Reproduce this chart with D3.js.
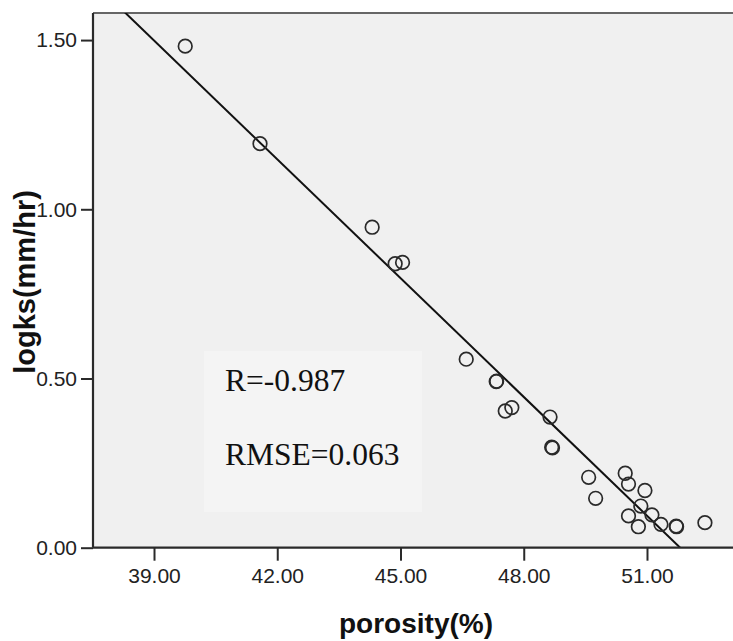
<!DOCTYPE html>
<html>
<head>
<meta charset="utf-8">
<script src="https://cdn.jsdelivr.net/npm/d3@7"></script>
<style>
  html, body { margin: 0; padding: 0; background: #fff; }
  svg { display: block; }
</style>
</head>
<body>
<svg id="chart" width="733" height="641"></svg>
<script>
// Soil porosity (%) against log saturated hydraulic conductivity
const porosity = [39.76, 41.58, 44.31, 44.87, 45.05, 46.60, 47.33, 47.34, 47.55, 47.71,
                  48.64, 48.68, 48.70, 49.58, 49.75, 50.47, 50.55, 50.95, 50.85, 50.55,
                  51.12, 50.79, 51.34, 51.71, 51.72, 52.41];
const logks    = [1.482, 1.194, 0.947, 0.839, 0.843, 0.557, 0.491, 0.492, 0.404, 0.414,
                  0.386, 0.297, 0.295, 0.208, 0.146, 0.220, 0.188, 0.169, 0.123, 0.094,
                  0.097, 0.062, 0.069, 0.064, 0.062, 0.074];

// Linear fit: logks = intercept + slope * porosity
const fitIntercept = 6.063;
const fitSlope = -0.11703;

const yTicks = [0, 0.5, 1.0, 1.5];
const xTicks = [39, 42, 45, 48, 51];
const statLines = ["R=-0.987", "RMSE=0.063"];

const svg = d3.select("#chart");
const plot = { left: 93, top: 13, right: 740, bottom: 547.7 };

const x = d3.scaleLinear().domain([37.515, 53.264]).range([plot.left, plot.right]);
const y = d3.scaleLinear().domain([0, 1.58]).range([plot.bottom, plot.top]);

// Plot area background
svg.append("rect")
  .attr("x", plot.left).attr("y", plot.top)
  .attr("width", plot.right - plot.left).attr("height", plot.bottom - plot.top)
  .attr("fill", "#f0f0f0");

svg.append("clipPath").attr("id", "plotClip")
  .append("rect")
  .attr("x", plot.left).attr("y", plot.top)
  .attr("width", plot.right - plot.left).attr("height", plot.bottom - plot.top);

// Statistics box
const box = svg.append("g");
box.append("rect")
  .attr("x", 204).attr("y", 351).attr("width", 218).attr("height", 161)
  .attr("fill", "#f4f4f4");
box.selectAll("text").data(statLines).join("text")
  .attr("x", 225)
  .attr("y", (d, i) => 391 + i * 74)
  .attr("font-family", "'Liberation Serif', 'Times New Roman', serif")
  .attr("font-size", 31.5)
  .attr("fill", "#111")
  .text(d => d);

// Top frame line
svg.append("line")
  .attr("x1", plot.left).attr("x2", plot.right)
  .attr("y1", plot.top).attr("y2", plot.top)
  .attr("stroke", "#666").attr("stroke-width", 2);

// Fit line
const g = svg.append("g").attr("clip-path", "url(#plotClip)");
const fitX = [37.5, 53.3];
g.append("line")
  .attr("x1", x(fitX[0])).attr("y1", y(fitIntercept + fitSlope * fitX[0]))
  .attr("x2", x(fitX[1])).attr("y2", y(fitIntercept + fitSlope * fitX[1]))
  .attr("stroke", "#111").attr("stroke-width", 2);

// Observations
g.selectAll("circle").data(porosity).join("circle")
  .attr("cx", d => x(d))
  .attr("cy", (d, i) => y(logks[i]))
  .attr("r", 6.8)
  .attr("fill", "none")
  .attr("stroke", "#2a2a2a")
  .attr("stroke-width", 1.7);

// Axes
const tickFont = "'Liberation Sans', Arial, sans-serif";
const yAxis = svg.append("g")
  .attr("transform", `translate(${plot.left},0)`)
  .call(d3.axisLeft(y).tickValues(yTicks).tickFormat(d3.format(".2f")).tickSize(12).tickPadding(4));
const xAxis = svg.append("g")
  .attr("transform", `translate(0,${plot.bottom})`)
  .call(d3.axisBottom(x).tickValues(xTicks).tickFormat(d3.format(".2f")).tickSize(13).tickPadding(7));

[yAxis, xAxis].forEach(a => {
  a.select(".domain").attr("stroke", "#2a2a2a").attr("stroke-width", 2.2);
  a.selectAll(".tick line").attr("stroke", "#2a2a2a").attr("stroke-width", 2);
  a.selectAll(".tick text")
    .attr("font-family", tickFont)
    .attr("font-size", 21)
    .attr("fill", "#222");
});
yAxis.select(".domain").attr("d", `M0,${plot.top}V${plot.bottom}`);
xAxis.select(".domain").attr("d", `M${plot.left},0H${plot.right}`);

// Axis titles
svg.append("text")
  .attr("x", 416).attr("y", 633)
  .attr("text-anchor", "middle")
  .attr("font-family", tickFont)
  .attr("font-weight", "bold")
  .attr("font-size", 28)
  .attr("fill", "#111")
  .text("porosity(%)");

svg.append("text")
  .attr("transform", "translate(35,282) rotate(-90)")
  .attr("text-anchor", "middle")
  .attr("font-family", tickFont)
  .attr("font-weight", "bold")
  .attr("font-size", 29)
  .attr("fill", "#111")
  .text("logks(mm/hr)");
</script>
</body>
</html>
